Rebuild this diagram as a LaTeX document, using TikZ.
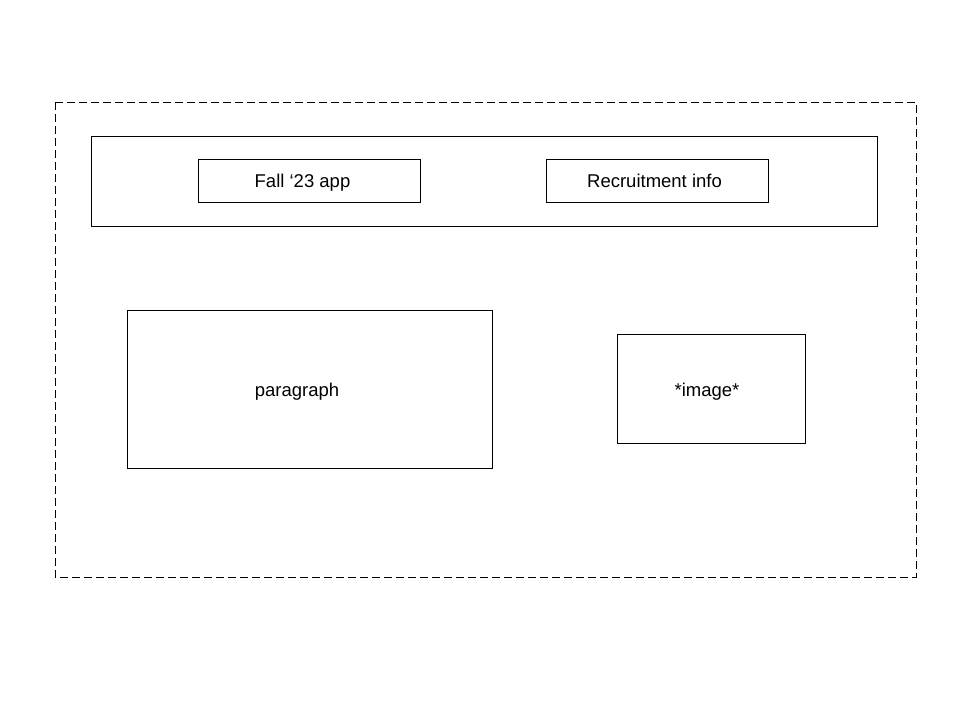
\documentclass[tikz,border=0pt]{standalone}
\usepackage{fontspec}
\setmainfont{Liberation Sans}
\begin{document}
\begin{tikzpicture}[x=1pt,y=-1pt,
  box/.style={draw=black,line width=1pt},
  lbl/.style={inner sep=0pt,font=\fontsize{18.5}{22}\selectfont,anchor=base}]
\useasboundingbox (0,0) rectangle (960,720);
\draw[box,dash pattern=on 8pt off 4pt] (55,102) rectangle (916,577);
\draw[box] (91,136) rectangle (877,226);
\draw[box] (198,159) rectangle (420,202);
\draw[box] (546,159) rectangle (768,202);
\draw[box] (127,310) rectangle (492,468);
\draw[box] (617,334) rectangle (805,443);
\node[lbl] (fall) at (302.5,187) {Fall ‘23 app};
\node[lbl] (recr) at (654.5,187) {Recruitment info};
\node[lbl] (para) at (297,396) {paragraph};
\node[lbl] (img) at (707,396) {*image*};
\end{tikzpicture}
\end{document}
